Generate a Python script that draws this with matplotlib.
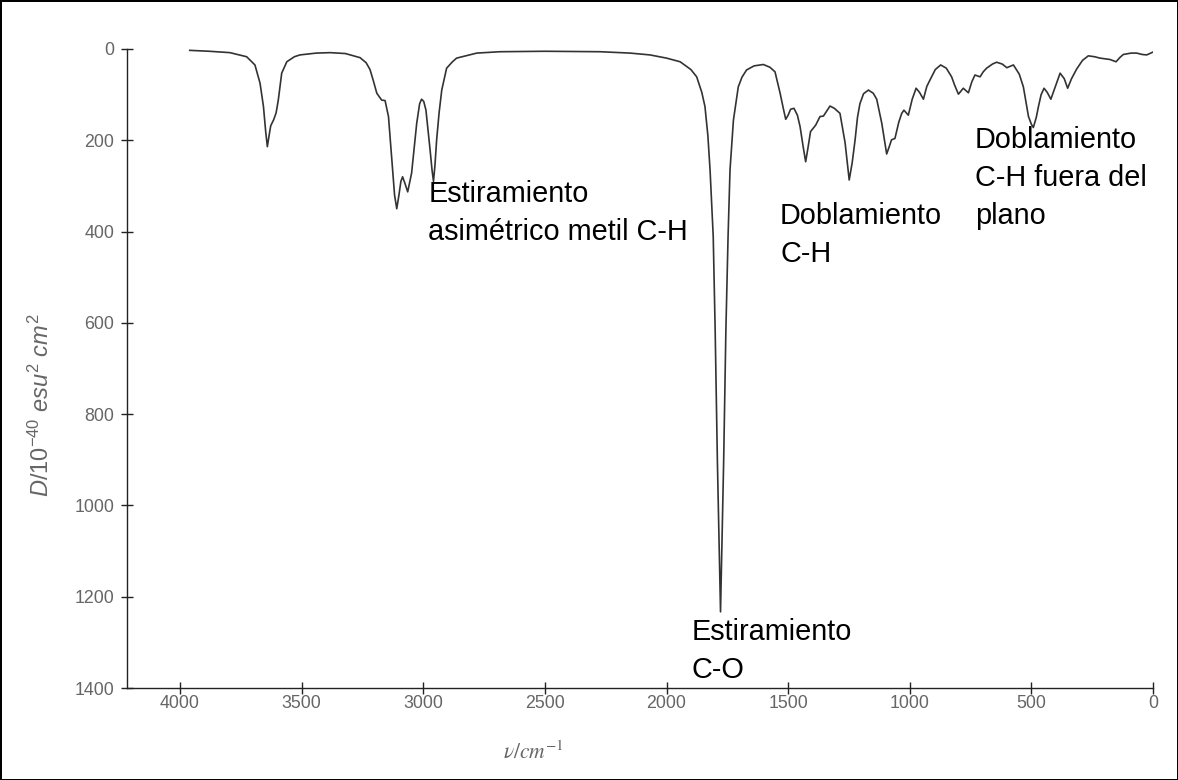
import matplotlib
matplotlib.use("Agg")
import matplotlib.pyplot as plt

# espectro IR (numero de onda en cm^-1, D en 10^-40 esu^2 cm^2)
nu = [3960, 3880, 3795, 3726, 3692, 3671, 3657, 3648, 3641, 3634, 3627, 3615,
      3605, 3596, 3582, 3561, 3530, 3507, 3440, 3383, 3320, 3260, 3235, 3219,
      3205, 3191, 3171, 3157, 3143, 3130, 3118, 3109, 3100, 3092, 3085, 3075,
      3064, 3048, 3037, 3027, 3015, 3007, 2998, 2989, 2972, 2964, 2958, 2952,
      2945, 2935, 2924, 2904, 2880, 2863, 2780, 2685, 2500, 2273, 2150, 2068,
      2000, 1944, 1900, 1876, 1855, 1842, 1830, 1821, 1808, 1800, 1791, 1778,
      1765, 1756, 1747, 1739, 1725, 1705, 1690, 1671, 1640, 1602, 1575, 1554,
      1533, 1520, 1510, 1500, 1490, 1476, 1462, 1451, 1438, 1428, 1418, 1408,
      1387, 1369, 1355, 1340, 1328, 1310, 1287, 1266, 1249, 1237, 1225, 1215,
      1205, 1190, 1170, 1150, 1136, 1115, 1095, 1085, 1075, 1061, 1045, 1033,
      1024, 1006, 990, 974, 960, 944, 930, 917, 895, 873, 850, 828,
      815, 800, 780, 759, 745, 732, 711, 698, 684, 660, 643, 620,
      601, 574, 550, 533, 512, 500, 492, 480, 471, 460, 448, 435,
      420, 400, 382, 365, 351, 335, 314, 290, 266, 240, 218, 177,
      152, 135, 122, 90, 67, 45, 26, 1]
D = [3, 5, 8, 17, 35, 75, 126, 180, 214, 190, 168, 155,
     140, 112, 53, 28, 17, 13, 9, 8, 10, 19, 30, 45,
     70, 97, 112, 113, 148, 236, 320, 350, 320, 290, 280, 295,
     313, 272, 215, 163, 120, 110, 115, 134, 221, 265, 290, 255,
     199, 140, 90, 42, 28, 20, 9, 6, 5, 6, 9, 13,
     20, 28, 45, 61, 95, 126, 190, 265, 411, 617, 900, 1233,
     900, 617, 411, 265, 156, 83, 62, 46, 37, 34, 40, 50,
     97, 130, 154, 145, 132, 130, 145, 170, 215, 247, 215, 181,
     167, 148, 147, 135, 125, 130, 141, 205, 287, 250, 200, 150,
     120, 98, 90, 97, 110, 163, 230, 215, 199, 196, 160, 141,
     134, 145, 110, 86, 95, 110, 82, 68, 45, 35, 42, 61,
     80, 99, 86, 96, 72, 57, 61, 50, 42, 33, 29, 33,
     41, 35, 55, 83, 148, 165, 172, 150, 126, 100, 86, 95,
     110, 80, 53, 65, 86, 65, 44, 25, 15, 17, 20, 23,
     28, 18, 12, 9, 9, 12, 13, 7]

etiquetas = ["Estiramiento\nasimétrico metil C-H", "Doblamiento\nC-H",
             "Doblamiento\nC-H fuera del\nplano", "Estiramiento\nC-O"]
etiq_x = [2980, 1533, 732, 1896]
etiq_y = [418, 467, 384, 1378]   # linea base de la ultima linea

plt.rcParams['mathtext.fontset'] = 'custom'
plt.rcParams['mathtext.rm'] = 'Liberation Sans'
plt.rcParams['mathtext.it'] = 'Liberation Sans:italic'

fig = plt.figure(figsize=(11.78, 7.8), dpi=100, edgecolor='black', linewidth=1)
ax = fig.add_axes([0.1078, 0.1179, 0.8710, 0.8193])

ax.plot(nu, D, color='#333333', lw=1.2)

ax.set_xlim(4218, 0)
ax.set_ylim(1400, 0)
ax.set_xticks([4000, 3500, 3000, 2500, 2000, 1500, 1000, 500, 0])
ax.set_yticks([0, 200, 400, 600, 800, 1000, 1200, 1400])

for s in ['top', 'right']:
    ax.spines[s].set_visible(False)
for s in ['left', 'bottom']:
    ax.spines[s].set_color('#222222')
    ax.spines[s].set_linewidth(1)

ax.tick_params(direction='inout', length=8, width=1, color='#222222',
               labelcolor='#666666', labelsize=12.8)
ax.tick_params(axis='x', pad=1)
ax.tick_params(axis='y', pad=5)
for lab in ax.get_xticklabels() + ax.get_yticklabels():
    lab.set_family('Liberation Sans')

for t, x, y in zip(etiquetas, etiq_x, etiq_y):
    ax.text(x, y, t, fontsize=20.8, family='Liberation Sans', color='black',
            va='baseline', ha='left', linespacing=1.45)

fig.text(41 / 1178, 1 - 405 / 780, r'$\mathit{D/10^{-40}\ esu^{2}\ cm^{2}}$',
         rotation=90, color='#666666', fontsize=17, ha='center', va='center')
fig.text(533 / 1178, 1 - 752 / 780, r'$\nu/cm^{-1}$', math_fontfamily='stix',
         color='#666666', fontsize=15.5, ha='center', va='center')

fig.savefig('out.png', dpi=100)
